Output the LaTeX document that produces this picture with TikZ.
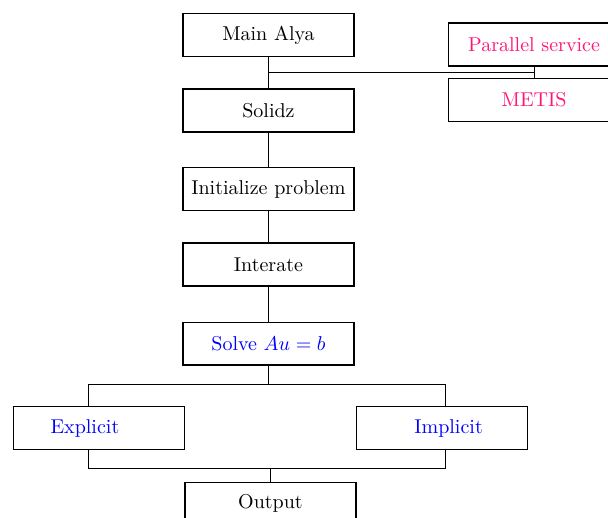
\documentclass[tikz,border=0pt]{standalone}
\usepackage{tikz}

\definecolor{parpink}{RGB}{255,20,120}
\tikzset{
    blok/.style={draw, thick, minimum width=3cm, minimum height=0.75cm},
}

\begin{document}
\begin{tikzpicture}
    \useasboundingbox (0, 0) rectangle (10.667, -9.088);
    % main column
    \node [blok] (main) at (4.71, -0.614) {Main Alya};
    \node [blok] (solidz) at (4.71, -1.94) {Solidz};
    \node [blok] (init) at (4.71, -3.316) {Initialize problem};
    \node [blok] (iter) at (4.71, -4.64) {Interate};
    \node [blok, text=blue] (solve) at (4.71, -6.03) {Solve $Au=b$};
    \node [blok] (out) at (4.745, -8.84) {Output};
    % solver branches
    \node [blok] (expl) at (1.737, -7.51) {};
    \node [text=blue] (expltxt) at (1.49, -7.51) {Explicit};
    \node [blok] (impl) at (7.755, -7.51) {};
    \node [text=blue] (impltxt) at (7.87, -7.51) {Implicit};
    % parallel side
    \node [blok, text=parpink] (par) at (9.37, -0.78) {Parallel service};
    \node [blok, text=parpink] (metis) at (9.37, -1.755) {METIS};

    \coordinate (jtop) at (6, -1.27);
    \coordinate (split) at (4.7, -6.75);
    \coordinate (merge) at (4.7, -8.21);
    \coordinate (explin) at (1.554, -7.51);
    \coordinate (implin) at (7.82, -7.51);

    \draw (main) -- (solidz);
    \draw (solidz) -- (init);
    \draw (init) -- (iter);
    \draw (iter) -- (solve);
    \draw (par) -- (metis);
    \draw (main |- jtop) -- (par |- jtop);

    \draw (solve.south) -- (solve |- split);
    \draw (explin |- expl.north) -- (explin |- split)
	-- (implin |- split) -- (implin |- impl.north);
    \draw (explin |- expl.south) -- (explin |- merge)
	-- (implin |- merge) -- (implin |- impl.south);
    \draw (out |- merge) -- (out.north);
\end{tikzpicture}
\end{document}
